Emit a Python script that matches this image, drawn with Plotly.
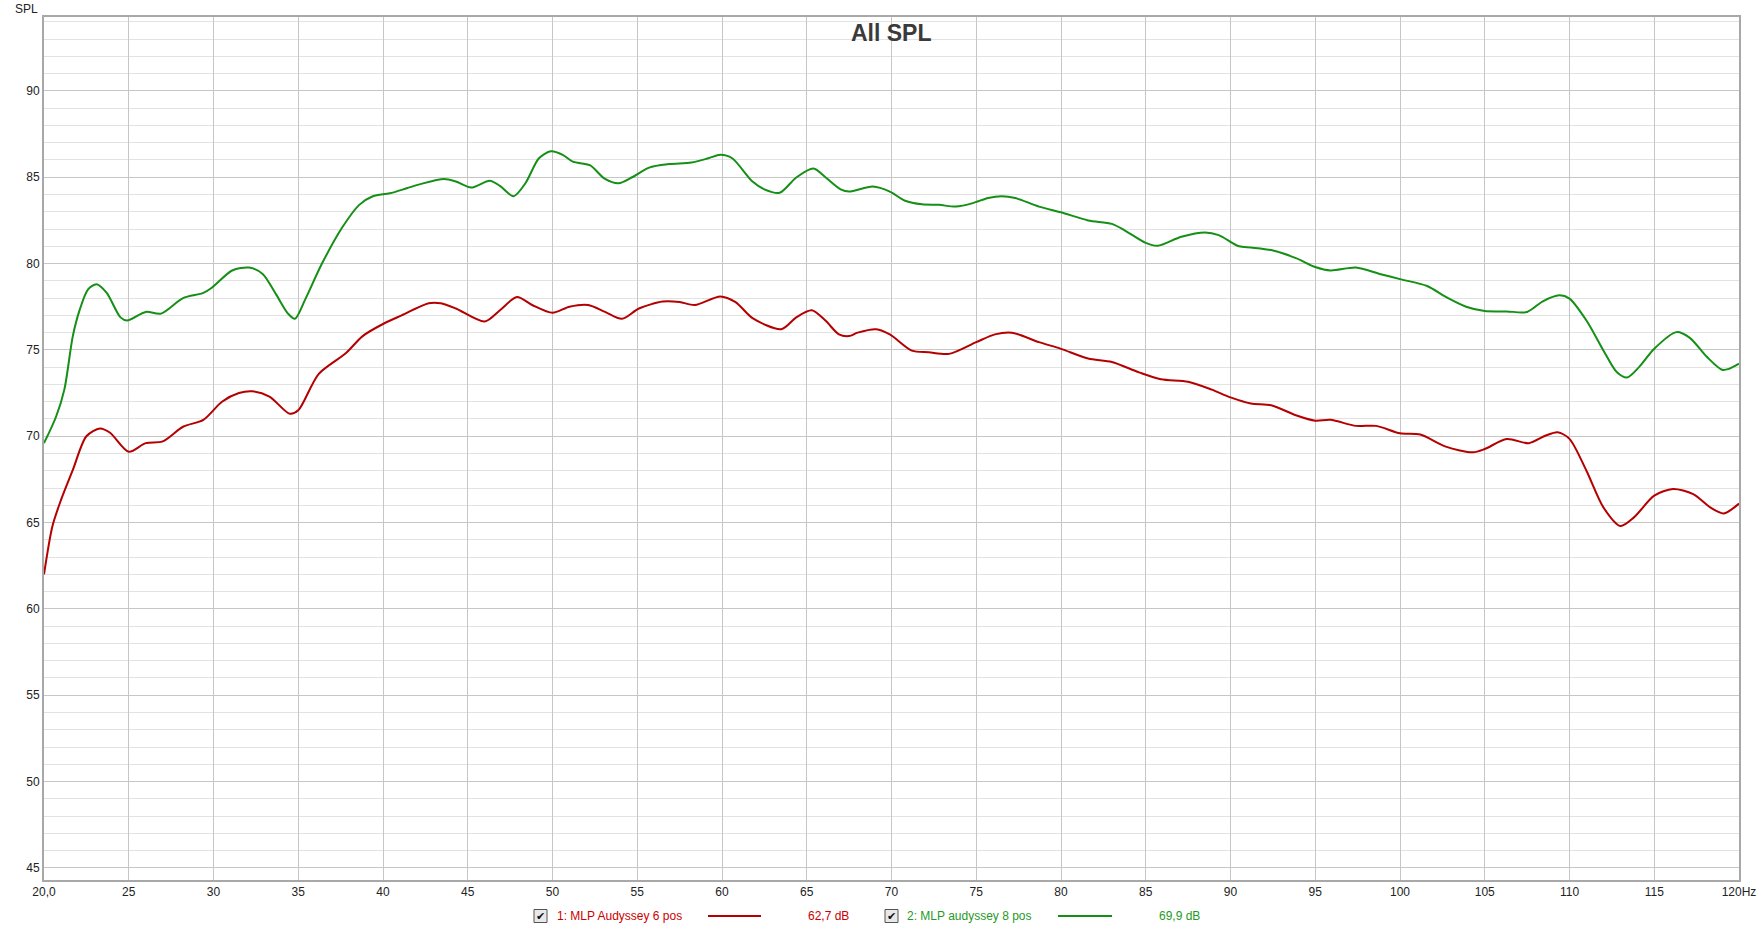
import plotly.graph_objects as go

# ---------------- data ----------------
red_freq = [20.0, 20.5, 21.0, 21.7, 22.5, 23.3, 23.9, 25.0, 26.0, 27.0, 28.2, 29.4, 30.5, 31.5,
            32.3, 33.3, 34.5, 35.0, 36.2, 37.8, 38.8, 40.0, 41.1, 42.7, 43.4, 44.3, 46.0, 46.9,
            47.9, 48.8, 50.0, 51.0, 52.1, 53.1, 54.1, 55.1, 56.5, 57.5, 58.4, 59.9, 60.8, 61.8,
            63.5, 64.4, 65.3, 66.1, 66.9, 67.5, 68.0, 69.1, 69.9, 71.2, 72.2, 73.4, 75.0, 76.1,
            77.1, 78.7, 80.0, 81.6, 83.0, 84.6, 85.9, 87.5, 88.9, 90.0, 91.2, 92.4, 93.9, 95.0,
            95.9, 97.4, 98.6, 100.0, 101.2, 102.7, 104.3, 105.0, 106.3, 107.6, 108.6, 109.3,
            110.0, 111.0, 112.0, 113.0, 113.8, 115.0, 116.1, 117.3, 118.3, 119.1, 120.0]
red_spl = [62.0, 64.8, 66.3, 68.05, 70.0, 70.45, 70.2, 69.1, 69.6, 69.7, 70.55, 70.95, 72.0, 72.5,
           72.6, 72.3, 71.3, 71.5, 73.6, 74.8, 75.8, 76.5, 77.0, 77.7, 77.7, 77.4, 76.65, 77.3,
           78.06, 77.6, 77.15, 77.5, 77.6, 77.2, 76.8, 77.4, 77.8, 77.77, 77.6, 78.1, 77.77, 76.84,
           76.2, 76.9, 77.3, 76.7, 75.9, 75.8, 76.0, 76.2, 75.9, 74.96, 74.86, 74.77, 75.45, 75.9,
           76.0, 75.45, 75.06, 74.5, 74.3, 73.7, 73.3, 73.16, 72.7, 72.25, 71.9, 71.8, 71.2, 70.9,
           70.95, 70.6, 70.6, 70.17, 70.1, 69.4, 69.07, 69.26, 69.84, 69.6, 70.04, 70.23,
           69.85, 68.0, 65.88, 64.8, 65.3, 66.56, 66.94, 66.65, 65.88, 65.53, 66.1]

green_freq = [20.0, 20.7, 21.2, 21.7, 22.1, 22.6, 23.1, 23.7, 24.5, 24.9, 26.0, 26.9, 28.2, 29.4,
              29.9, 31.1, 32.1, 32.9, 33.7, 34.4, 34.8, 35.4, 36.4, 37.6, 38.6, 39.4, 40.4, 41.4,
              42.2, 43.6, 44.3, 45.2, 46.3, 46.9, 47.7, 48.4, 49.2, 49.9, 50.6, 51.2, 52.2, 53.1,
              53.9, 54.7, 55.7, 56.9, 58.2, 59.2, 59.9, 60.6, 61.8, 62.5, 63.4, 64.4, 65.4, 66.1,
              67.0, 67.5, 68.9, 69.9, 70.8, 71.8, 72.8, 73.8, 74.8, 75.7, 76.5, 77.3, 78.7, 80.0,
              81.6, 83.0, 83.8, 85.0, 85.7, 87.1, 88.5, 89.3, 90.5, 91.2, 92.4, 93.9, 95.0, 95.9,
              97.4, 98.8, 100.0, 101.6, 102.7, 103.9, 105.0, 106.3, 107.5, 108.4, 109.4, 110.0,
              111.0, 112.0, 112.8, 113.4, 114.1, 115.0, 116.3, 117.1, 118.1, 119.0, 119.4, 120.0]
green_spl = [69.6, 71.1, 72.7, 75.8, 77.3, 78.5, 78.8, 78.3, 76.9, 76.7, 77.2, 77.1, 78.0, 78.3,
             78.6, 79.6, 79.77, 79.4, 78.2, 77.1, 76.8, 77.9, 80.0, 82.1, 83.4, 83.9, 84.07, 84.36,
             84.6, 84.9, 84.75, 84.4, 84.8, 84.5, 83.9, 84.65, 86.1, 86.5, 86.3, 85.9, 85.7, 84.9,
             84.65, 85.0, 85.56, 85.76, 85.85, 86.1, 86.3, 86.1, 84.75, 84.3, 84.1, 85.0, 85.5, 85.0,
             84.3, 84.17, 84.46, 84.17, 83.64, 83.43, 83.4, 83.3, 83.5, 83.8, 83.9, 83.8, 83.3, 82.97,
             82.5, 82.3, 81.9, 81.2, 81.03, 81.55, 81.8, 81.65, 81.0, 80.93, 80.78, 80.3, 79.8, 79.6,
             79.77, 79.4, 79.1, 78.7, 78.07, 77.5, 77.25, 77.23, 77.2, 77.8, 78.16, 77.97,
             76.7, 74.97, 73.7, 73.4, 74.0, 75.07, 76.03, 75.7, 74.6, 73.85, 73.9, 74.2]

x_tickvals = [20, 25, 30, 35, 40, 45, 50, 55, 60, 65, 70, 75, 80, 85, 90, 95, 100, 105, 110, 115, 120]
x_ticktext = ["20,0", "25", "30", "35", "40", "45", "50", "55", "60", "65", "70", "75", "80",
              "85", "90", "95", "100", "105", "110", "115", "120Hz"]
y_tickvals = [45, 50, 55, 60, 65, 70, 75, 80, 85, 90]

series_names = ["1: MLP Audyssey 6 pos", "2: MLP audyssey 8 pos"]
series_levels = ["62,7 dB", "69,9 dB"]
line_colors = ["#b40000", "#158f15"]
text_colors = ["#cc0000", "#1f9a1f"]

# ---------------- figure ----------------
W, H = 1761, 932
ML, MR, MT, MB = 44, 22, 17, 52
PW, PH = W - ML - MR, H - MT - MB


def px(xp):
    return (xp - ML) / PW


def py(yp):
    return (H - MB - yp) / PH


fig = go.Figure()
fig.add_trace(go.Scatter(x=red_freq, y=red_spl, mode="lines",
                         line=dict(color=line_colors[0], width=2, shape="spline", smoothing=0.8),
                         name=series_names[0], showlegend=False))
fig.add_trace(go.Scatter(x=green_freq, y=green_spl, mode="lines",
                         line=dict(color=line_colors[1], width=2, shape="spline", smoothing=0.8),
                         name=series_names[1], showlegend=False))

FONT = "Liberation Sans, Arial, sans-serif"

fig.update_layout(
    width=W, height=H,
    margin=dict(l=ML, r=MR, t=MT, b=MB),
    paper_bgcolor="white", plot_bgcolor="white",
    font=dict(family=FONT, size=12, color="#222"),
    xaxis=dict(range=[20, 120], tickvals=x_tickvals, ticktext=x_ticktext, automargin=False,
               showgrid=True, gridcolor="#c6c6c6", gridwidth=1, zeroline=False,
               showline=True, linecolor="#a8a8a8", linewidth=2, mirror=True,
               ticks="", tickfont=dict(size=12, color="#222")),
    yaxis=dict(range=[44.3, 94.28], tickvals=y_tickvals, automargin=False,
               showgrid=True, gridcolor="#c6c6c6", gridwidth=1, zeroline=False,
               minor=dict(dtick=1, tick0=45, showgrid=True, gridcolor="#e2e2e2", gridwidth=1),
               showline=True, linecolor="#a8a8a8", linewidth=2, mirror=True,
               ticks="", tickfont=dict(size=12, color="#222")),
)

ann = []
ann.append(dict(text="<b>All SPL</b>", x=0.5, y=py(33), xref="paper", yref="paper",
                xanchor="center", yanchor="middle", showarrow=False,
                font=dict(family=FONT, size=23, color="#3a3a3a")))
ann.append(dict(text="SPL", x=px(40), y=py(9), xref="paper", yref="paper",
                xanchor="right", yanchor="middle", showarrow=False,
                font=dict(family=FONT, size=12, color="#222")))

legend_y = 916
box_x = [534, 885]
name_x = [555, 905]
line_x = [(708, 761), (1058, 1112)]
level_x = [806, 1157]
shapes = []
for i in range(2):
    shapes.append(dict(type="rect", xref="paper", yref="paper",
                       x0=px(box_x[i]), x1=px(box_x[i] + 13), y0=py(legend_y + 6.5), y1=py(legend_y - 6.5),
                       line=dict(color="#555", width=1), fillcolor="#e8e8e8"))
    ann.append(dict(text="✔", x=px(box_x[i] + 6.5), y=py(legend_y), xref="paper", yref="paper",
                    xanchor="center", yanchor="middle", showarrow=False,
                    font=dict(family="DejaVu Sans", size=11, color="#111")))
    ann.append(dict(text=series_names[i], x=px(name_x[i]), y=py(legend_y), xref="paper", yref="paper",
                    xanchor="left", yanchor="middle", showarrow=False,
                    font=dict(family=FONT, size=12, color=text_colors[i])))
    shapes.append(dict(type="line", xref="paper", yref="paper",
                       x0=px(line_x[i][0]), x1=px(line_x[i][1]), y0=py(legend_y), y1=py(legend_y),
                       line=dict(color=line_colors[i], width=2)))
    ann.append(dict(text=series_levels[i], x=px(level_x[i]), y=py(legend_y), xref="paper", yref="paper",
                    xanchor="left", yanchor="middle", showarrow=False,
                    font=dict(family=FONT, size=12, color=text_colors[i])))

fig.update_layout(annotations=ann, shapes=shapes)
fig.write_html("out.html", config={"displayModeBar": False},
               post_script="document.body.style.margin='0';document.body.style.overflow='hidden';")
